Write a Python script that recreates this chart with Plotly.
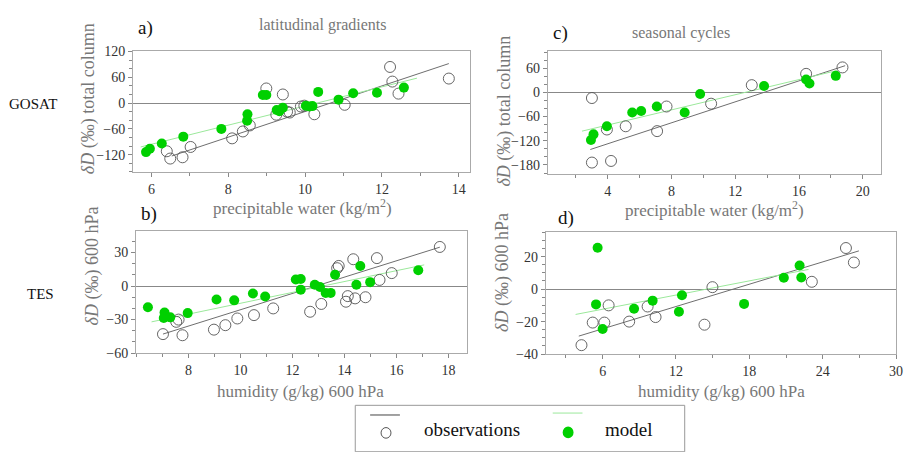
import plotly.graph_objects as go

# ---- data: (a) latitudinal gradients, GOSAT total column ----
a_obs_x = [6.40, 6.49, 6.81, 7.02, 8.10, 8.38, 8.56, 8.99, 9.25, 9.42, 9.53, 9.60,
           9.89, 9.98, 10.24, 11.03, 12.21, 12.27, 12.43, 13.74]
a_obs_y = [-112, -129, -126, -102, -82, -66, -52, 34, -27, 20, -20, -22,
           -8, -6, -26, -4, 84, 50, 22, 57]
a_mod_x = [5.86, 5.96, 6.27, 6.83, 7.82, 8.49, 8.50, 8.90, 8.99, 9.26, 9.33, 9.42,
           10.02, 10.11, 10.19, 10.34, 10.87, 11.25, 11.87, 12.57]
a_mod_y = [-114, -106, -94, -78, -60, -41, -26, 19, 19, -16, -19, -11,
           -6, -8, -7, 26, 8, 23, 24, 36]
# regression lines: [slope, intercept], fitted x extent
a_obs_fit, a_obs_fit_x = [29.8, -317.6], [6.53, 13.74]
a_mod_fit, a_mod_fit_x = [22.25, -229.3], [5.72, 12.91]

# ---- data: (b) latitudinal gradients, TES 600 hPa ----
b_obs_x = [7.02, 7.53, 7.62, 7.77, 8.98, 9.42, 9.88, 10.52, 11.26, 12.68, 13.11,
           13.72, 13.78, 14.06, 14.13, 14.34, 14.41, 14.81, 15.25, 15.35, 15.82, 17.67]
b_obs_y = [-43, -32, -30, -44, -39, -35, -29, -26, -20, -23, -16,
           16, 18, -14, -9, 24, -11, -10, 25, 5.5, 11.6, 35]
b_mod_x = [6.44, 7.05, 7.08, 7.30, 7.97, 9.08, 9.76, 10.48, 10.95, 12.13, 12.32,
           12.32, 12.86, 13.06, 13.28, 13.47, 13.64, 14.46, 14.61, 14.99, 16.84]
b_mod_y = [-19, -28.6, -23.6, -28, -24.2, -12, -12.8, -6.7, -9.3, 5.9, 6.4,
           -3.2, 1.1, -0.9, -6.1, -6.1, 10.2, 1.1, 18, 3.5, 14.2]
b_obs_fit, b_obs_fit_x = [7.30, -94.2], [7.02, 17.67]
b_mod_fit, b_mod_fit_x = [4.86, -64.0], [6.58, 17.07]

# ---- data: (c) seasonal cycles, GOSAT total column ----
c_obs_x = [3.0, 3.0, 4.2, 3.94, 5.12, 7.09, 7.68, 10.48, 13.03, 16.44, 18.72]
c_obs_y = [-14, -174, -170, -92, -84, -96, -35, -28, 18, 46, 62]
c_mod_x = [2.94, 3.10, 3.94, 5.53, 6.09, 7.07, 8.82, 9.79, 13.8, 16.44, 16.65, 18.3]
c_mod_y = [-118, -104, -84, -50, -46, -35, -50, -4, 16, 32, 22, 41]
c_obs_fit, c_obs_fit_x = [13.0, -179.3], [2.90, 18.89]
c_mod_fit, c_mod_fit_x = [9.39, -118.4], [2.38, 18.37]

# ---- data: (d) seasonal cycles, TES 600 hPa ----
d_obs_x = [4.27, 5.19, 6.14, 6.49, 8.17, 9.68, 10.33, 14.33, 14.98, 23.11, 25.9, 26.55]
d_obs_y = [-34.5, -20.6, -20.6, -10, -20, -10.7, -17.2, -21.9, 1.2, 4.5, 25.3, 16.4]
d_mod_x = [5.59, 5.46, 6.0, 8.57, 10.09, 12.24, 12.49, 17.57, 20.82, 22.11, 22.25]
d_mod_y = [25.5, -9.4, -24.6, -12.1, -7.1, -13.9, -3.8, -9.1, 7.0, 14.5, 7.1]
d_obs_fit, d_obs_fit_x = [2.29, -38.2], [4.05, 26.96]
d_mod_fit, d_mod_fit_x = [1.454, -21.1], [3.79, 22.84]

# ---- tick values ----
a_xticks, a_yticks = [6, 8, 10, 12, 14], [-120, -60, 0, 60, 120]
b_xticks, b_yticks = [8, 10, 12, 14, 16, 18], [-60, -30, 0, 30]
c_xticks, c_yticks = [4, 8, 12, 16, 20], [-180, -120, -60, 0, 60]
d_xticks, d_yticks = [6, 12, 18, 24, 30], [-40, -20, 0, 20]

W, H = 912, 452
SERIF = '"Liberation Serif", "Times New Roman", Times, "DejaVu Serif", serif'
OBS_LINE = "#6e6e6e"
MOD_LINE = "#9be89b"
OBS_EDGE = "#555555"
GREEN = "#00d000"


def px(x):
    return x / W


def py(y):
    return 1 - y / H


fig = go.Figure()

panels = [
    # axis suffix, series, fits, x-domain px, y-domain px, ranges, ticks, minor steps
    ("", a_obs_x, a_obs_y, a_mod_x, a_mod_y, (a_obs_fit, a_obs_fit_x), (a_mod_fit, a_mod_fit_x),
     (134, 474), (46, 171), [5.52, 14.30], [-161, 120], a_xticks, 1, a_yticks, 20),
    ("2", b_obs_x, b_obs_y, b_mod_x, b_mod_y, (b_obs_fit, b_obs_fit_x), (b_mod_fit, b_mod_fit_x),
     (137, 471), (232, 358), [5.98, 18.73], [-60, 49], b_xticks, 1, b_yticks, 10),
    ("3", c_obs_x, c_obs_y, c_mod_x, c_mod_y, (c_obs_fit, c_obs_fit_x), (c_mod_fit, c_mod_fit_x),
     (552, 888), (46, 173), [0.23, 21.15], [-203, 101.5], c_xticks, 2, c_yticks, 20),
    ("4", d_obs_x, d_obs_y, d_mod_x, d_mod_y, (d_obs_fit, d_obs_fit_x), (d_mod_fit, d_mod_fit_x),
     (550, 903), (233, 359), [1.35, 30], [-40, 35], d_xticks, 3, d_yticks, 5),
]

for (sfx, ox, oy, mx, my, ofit, mfit, xd, yd, xr, yr, xt, xminor, yt, yminor) in panels:
    xa, ya = "x" + sfx, "y" + sfx
    # regression lines
    for (coef, xs), col in ((ofit, OBS_LINE), (mfit, MOD_LINE)):
        k, b0 = coef
        fig.add_trace(go.Scatter(x=xs, y=[k * v + b0 for v in xs], mode="lines",
                                 line=dict(color=col, width=1),
                                 xaxis=xa, yaxis=ya, hoverinfo="skip"))
    fig.add_trace(go.Scatter(x=ox, y=oy, mode="markers",
                             marker=dict(symbol="circle-open", size=11, color=OBS_EDGE,
                                         line=dict(color=OBS_EDGE, width=0.9)),
                             xaxis=xa, yaxis=ya))
    fig.add_trace(go.Scatter(x=mx, y=my, mode="markers",
                             marker=dict(symbol="circle", size=10, color=GREEN,
                                         line=dict(width=0)),
                             xaxis=xa, yaxis=ya))

    common = dict(showgrid=False, showline=True, linecolor="#aaaaaa", linewidth=1,
                  mirror=True, ticks="outside", ticklen=4, tickcolor="#888888",
                  tickfont=dict(family=SERIF, size=14, color="#333333"))
    fig.update_layout(**{
        "xaxis" + sfx: dict(domain=[px(xd[0]), px(xd[1])], range=xr, anchor=ya,
                            tickvals=xt, zeroline=False,
                            minor=dict(dtick=xminor, ticklen=3, tickcolor="#888888",
                                       ticks="outside"),
                            **common),
        "yaxis" + sfx: dict(domain=[py(yd[1]), py(yd[0])], range=yr, anchor=xa,
                            tickvals=yt, zeroline=True, zerolinecolor="#888888",
                            zerolinewidth=1,
                            minor=dict(dtick=yminor, ticklen=3, tickcolor="#888888",
                                       ticks="outside"),
                            **common),
    })

ann = []


def text(x, y, s, size=16, color="#777777", angle=0, xanchor="center"):
    ann.append(dict(x=px(x), y=py(y), xref="paper", yref="paper", text=s,
                    showarrow=False, textangle=angle, xanchor=xanchor, yanchor="middle",
                    font=dict(family=SERIF, size=size, color=color)))


# row labels
text(33, 100, "GOSAT", 15, "#111111")
text(41, 297, "TES", 15, "#111111")
# panel letters and titles
text(147, 22, "a)", 19, "#111111")
text(150, 214, "b)", 19, "#111111")
text(565, 27, "c)", 19, "#111111")
text(570, 218, "d)", 19, "#111111")
text(326, 19, "latitudinal gradients", 16)
text(686, 27, "seasonal cycles", 16)
# axis titles
text(90, 95, "<i>δD</i> (‰) total column", 18, angle=-90)
text(93, 268, "<i>δD</i> (‰) 600 hPa", 18, angle=-90)
text(508, 108, "<i>δD</i> (‰) total column", 18, angle=-90)
text(507, 275, "<i>δD</i> (‰) 600 hPa", 18, angle=-90)
text(305, 207, "precipitable water (kg/m<sup>2</sup>)", 17)
text(720, 209, "precipitable water (kg/m<sup>2</sup>)", 17)
text(303, 398, "humidity (g/kg) 600 hPa", 17)
text(727, 398, "humidity (g/kg) 600 hPa", 17)
# legend labels
text(425, 437, "observations", 19, "#111111", xanchor="left")
text(608, 437, "model", 19, "#111111", xanchor="left")

shapes = [
    dict(type="rect", xref="paper", yref="paper", x0=px(358), x1=px(690),
         y0=py(460), y1=py(412), line=dict(color="#999999", width=1)),
    dict(type="line", xref="paper", yref="paper", x0=px(373), x1=px(403),
         y0=py(422), y1=py(422), line=dict(color="#444444", width=1)),
    dict(type="circle", xref="paper", yref="paper", x0=px(384), x1=px(394),
         y0=py(446), y1=py(435), line=dict(color=OBS_EDGE, width=1)),
    dict(type="line", xref="paper", yref="paper", x0=px(557), x1=px(587),
         y0=py(420), y1=py(420), line=dict(color=MOD_LINE, width=1)),
    dict(type="circle", xref="paper", yref="paper", x0=px(567), x1=px(578),
         y0=py(446), y1=py(434), fillcolor=GREEN, line=dict(width=0)),
]

fig.update_layout(width=W, height=H, autosize=False,
                  margin=dict(l=0, r=0, t=0, b=0),
                  font=dict(family=SERIF, color="#333333"),
                  paper_bgcolor="white", plot_bgcolor="white",
                  annotations=ann, shapes=shapes, showlegend=False)

fig.write_html("out.html")
